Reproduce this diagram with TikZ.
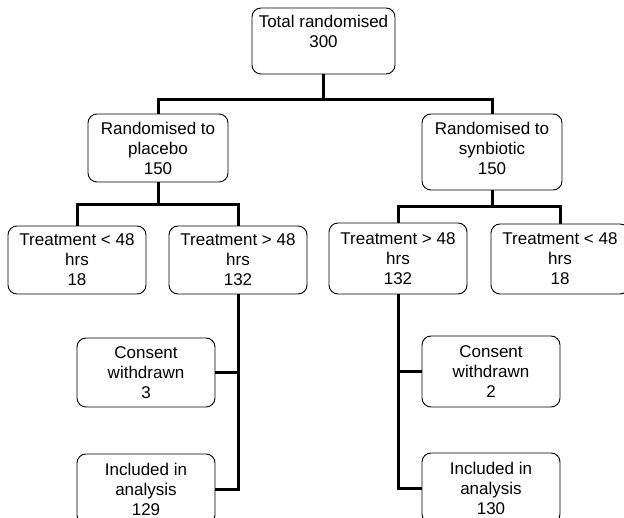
\documentclass[tikz,border=0pt]{standalone}
\usepackage{fontspec}
\setmainfont{Liberation Sans}
\begin{document}
\begin{tikzpicture}[x=1pt, y=-1pt,
    flowbox/.style={draw, rounded corners=9pt, line width=0.9pt, align=center,
      inner sep=0pt, minimum width=138pt, minimum height=69pt,
      font=\fontsize{17}{20}\selectfont},
    link/.style={line width=3pt}]
  \useasboundingbox (0,0) rectangle (624,518);
  \clip (0,0) rectangle (624,518);
  \node[flowbox, minimum width=143pt, minimum height=66pt] (total) at (323.5,41) {Total randomised\\300\\\mbox{}};
  \node[flowbox, minimum width=140pt, minimum height=68pt] (placebo) at (158,148) {Randomised to\\placebo\\150};
  \node[flowbox, minimum width=140pt, minimum height=76pt] (synb) at (492,152) {Randomised to\\synbiotic\\150\\[-12pt]\mbox{}};
  \node[flowbox, minimum height=68pt] (pless) at (77,260) {Treatment < 48\\hrs\\18};
  \node[flowbox, minimum height=68pt] (pmore) at (238,260) {Treatment > 48\\hrs\\132};
  \node[flowbox, minimum height=71pt] (smore) at (398,258.5) {Treatment > 48\\hrs\\132};
  \node[flowbox, minimum height=70pt] (sless) at (560,259) {Treatment < 48\\hrs\\18};
  \node[flowbox] (pconsent) at (146,372.5) {Consent\\withdrawn\\3};
  \node[flowbox, minimum height=71pt] (sconsent) at (491,371.5) {Consent\\withdrawn\\2};
  \node[flowbox, minimum height=70pt] (pincl) at (146,489) {Included in\\analysis\\129};
  \node[flowbox, minimum height=70pt] (sincl) at (491,488) {Included in\\analysis\\130};
  \coordinate (jtop) at (323.5,100);
  \coordinate (jplac) at (158,205);
  \coordinate (jsynb) at (492,207);
  \draw[link] (total.south) -- (jtop);
  \draw[link] (placebo.north) |- (jtop) -| (synb.north);
  \draw[link] (placebo.south) -- (jplac);
  \draw[link] (pless.north) |- (jplac) -| (pmore.north);
  \draw[link] (synb.south) -- (jsynb);
  \draw[link] (smore.north) |- (jsynb) -| (sless.north);
  \draw[link] (pmore.south) |- (pincl.east);
  \draw[link] (pconsent.east) -- (pconsent.east -| pmore.south);
  \draw[link] (smore.south) |- (sincl.west);
  \draw[link] (sconsent.west) -- (sconsent.west -| smore.south);
\end{tikzpicture}
\end{document}
